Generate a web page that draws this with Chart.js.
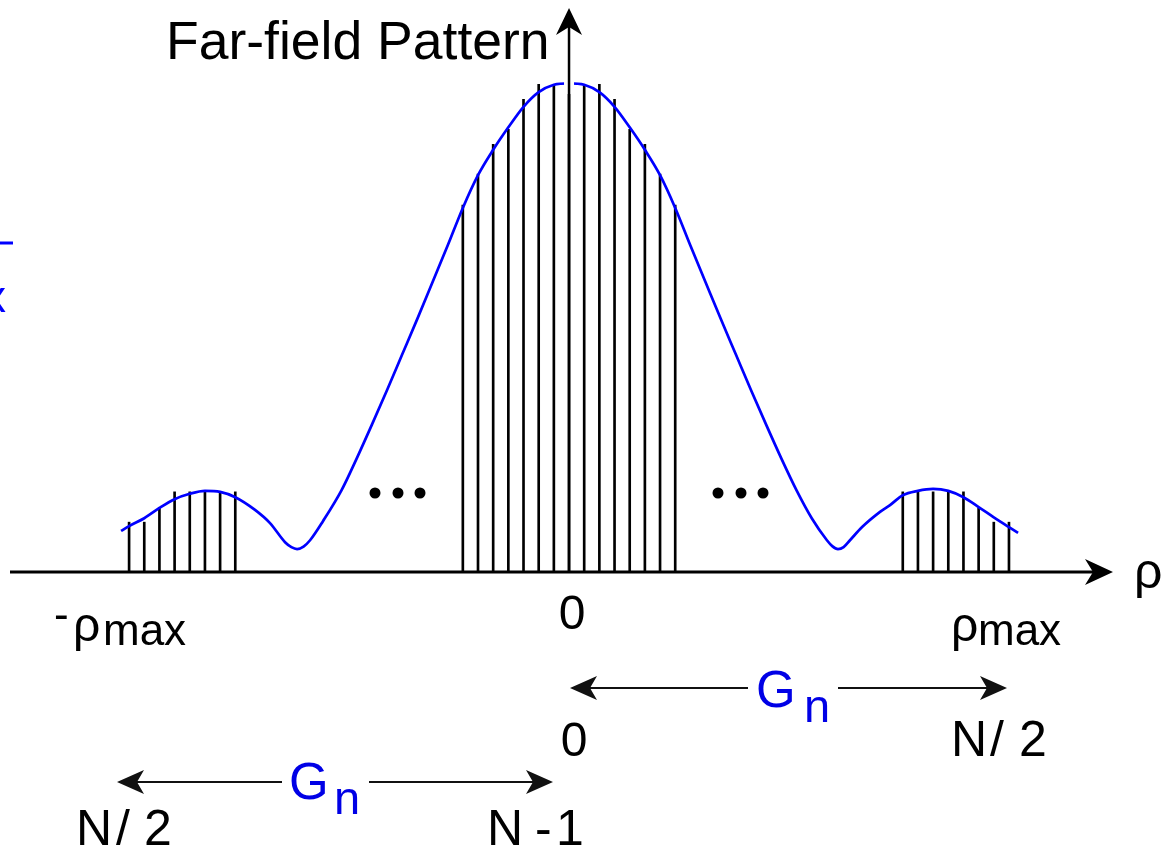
<!DOCTYPE html>
<html>
<head>
<meta charset="utf-8">
<script src="https://cdn.jsdelivr.net/npm/chart.js@4.4.0/dist/chart.umd.min.js"></script>
<style>
  html, body { margin: 0; padding: 0; background: #fff; }
  #wrap { width: 1164px; height: 850px; position: relative; }
</style>
</head>
<body>
<div id="wrap"><canvas id="farField"></canvas></div>
<script>
// Far-field pattern curve: rho in sample-index units, amplitude normalised to the peak
const curveRho = [-29.53, -29, -28, -27, -26, -25, -24, -23, -22, -20.7,
  -19.71, -18.72, -18.3, -17.93, -17.5, -17.07, -16.22, -15, -14, -13,
  -12, -11, -10, -9, -8, -7, -6, -5, -4, -3,
  -2, -1, 0, 1, 2, 3, 4, 5, 6, 7,
  8, 9, 10, 11, 12, 13, 14, 15, 16, 17,
  17.35, 17.73, 18.1, 18.52, 19.32, 20.5, 21.16, 22, 23, 24,
  25, 26, 27, 28, 29, 29.6];
const curveAmp = [0.084, 0.094, 0.110, 0.131, 0.149, 0.160, 0.166, 0.164, 0.153, 0.127,
  0.100, 0.061, 0.051, 0.047, 0.052, 0.065, 0.104, 0.167, 0.232, 0.301,
  0.372, 0.445, 0.518, 0.593, 0.668, 0.745, 0.812, 0.864, 0.910, 0.952,
  0.982, 0.997, 1.000, 0.997, 0.982, 0.952, 0.910, 0.864, 0.812, 0.745,
  0.668, 0.593, 0.518, 0.445, 0.372, 0.301, 0.232, 0.167, 0.110, 0.065,
  0.053, 0.047, 0.051, 0.065, 0.092, 0.123, 0.137, 0.157, 0.166, 0.170,
  0.166, 0.153, 0.133, 0.112, 0.092, 0.080];

// Sample stems G_n
const sampleRho = [-29, -28, -27, -26, -25, -24, -23, -22,
  -7, -6, -5, -4, -3, -2, -1, 0, 1, 2, 3, 4, 5, 6, 7,
  22, 23, 24, 25, 26, 27, 28, 29];
const sampleAmp = [0.102, 0.102, 0.131, 0.164, 0.164, 0.164, 0.164, 0.164,
  0.751, 0.814, 0.875, 0.906, 0.967, 0.998, 0.998, 1.000, 0.998, 0.998, 0.967, 0.906, 0.875, 0.814, 0.751,
  0.164, 0.164, 0.164, 0.164, 0.164, 0.131, 0.102, 0.102];

const FONT = '"Liberation Sans", Arial, sans-serif';
const BLUE = '#0000ff';

function line(ctx, x1, y1, x2, y2) {
  ctx.beginPath();
  ctx.moveTo(x1, y1);
  ctx.lineTo(x2, y2);
  ctx.stroke();
}

// concave arrow head, tip at (tx, ty), pointing along angle
function arrowHead(ctx, tx, ty, angle, len, half, notch) {
  ctx.save();
  ctx.translate(tx, ty);
  ctx.rotate(angle);
  ctx.beginPath();
  ctx.moveTo(0, 0);
  ctx.lineTo(-len, -half);
  ctx.lineTo(-len + notch, 0);
  ctx.lineTo(-len, half);
  ctx.closePath();
  ctx.fill();
  ctx.restore();
}

function txt(ctx, s, x, y, size, color, align) {
  ctx.font = size + 'px ' + FONT;
  ctx.fillStyle = color || '#000';
  ctx.textAlign = align || 'left';
  ctx.textBaseline = 'alphabetic';
  ctx.fillText(s, x, y);
}

const decor = {
  id: 'decor',
  afterDatasetsDraw(chart) {
    const { ctx, scales: { x, y } } = chart;
    const x0 = x.getPixelForValue(0);
    const y0 = y.getPixelForValue(0);
    ctx.save();

    // white gap where the vertical axis crosses the top of the curve
    ctx.fillStyle = '#fff';
    ctx.fillRect(x0 - 5, 72, 10, 22);

    ctx.strokeStyle = '#000';
    ctx.fillStyle = '#000';

    // horizontal axis
    ctx.lineWidth = 3;
    line(ctx, 10, y0, 1095, y0);
    arrowHead(ctx, 1113, y0, 0, 28, 13, 8);

    // vertical axis
    ctx.lineWidth = 2.5;
    line(ctx, x0, y0, x0, 25);
    arrowHead(ctx, x0, 8, -Math.PI / 2, 27, 13, 8);

    // ellipsis dots
    [375, 398, 420, 718, 741, 763].forEach(function (cx) {
      ctx.beginPath();
      ctx.arc(cx, 493, 5.5, 0, Math.PI * 2);
      ctx.fill();
    });

    // dimension arrows
    ctx.strokeStyle = '#111';
    ctx.fillStyle = '#111';
    ctx.lineWidth = 2;
    line(ctx, 580, 688, 748, 688);
    line(ctx, 838, 688, 997, 688);
    arrowHead(ctx, 570, 688, Math.PI, 27, 12, 7);
    arrowHead(ctx, 1007, 688, 0, 27, 12, 7);
    line(ctx, 127, 782, 282, 782);
    line(ctx, 369, 782, 543, 782);
    arrowHead(ctx, 117, 782, Math.PI, 27, 12, 7);
    arrowHead(ctx, 553, 782, 0, 27, 12, 7);

    // texts
    txt(ctx, 'Far-field Pattern', 166, 59, 53.5);
    txt(ctx, 'ρ', 1134, 588, 50);

    txt(ctx, '-', 54, 629, 44);
    txt(ctx, 'ρ', 73, 641, 48);
    txt(ctx, 'max', 103, 645, 44);
    txt(ctx, 'ρ', 951, 641, 48);
    txt(ctx, 'max', 978, 645, 44);

    txt(ctx, '0', 572, 629, 48, '#000', 'center');
    txt(ctx, '0', 574, 756, 48, '#000', 'center');

    txt(ctx, 'N', 951, 756, 50);
    txt(ctx, '/', 990, 756, 50);
    txt(ctx, '2', 1019, 756, 50);

    txt(ctx, 'N', 76, 845, 50);
    txt(ctx, '/', 116, 845, 50);
    txt(ctx, '2', 144, 845, 50);

    txt(ctx, 'N', 487, 845, 50);
    txt(ctx, '-', 535, 845, 50);
    txt(ctx, '1', 556, 845, 50);

    const GB = '#0000e6';
    txt(ctx, 'G', 756, 707, 51, GB);
    txt(ctx, 'n', 804, 722, 47, GB);
    txt(ctx, 'G', 289, 799, 51, GB);
    txt(ctx, 'n', 334, 814, 47, GB);

    // clipped blue fragments at the left edge
    ctx.strokeStyle = BLUE;
    ctx.lineWidth = 3;
    line(ctx, 0, 243, 13, 243);
    txt(ctx, 'x', 6, 312, 44, BLUE, 'right');

    ctx.restore();
  }
};

const curvePoints = curveRho.map((r, i) => ({ x: r, y: curveAmp[i] }));
const samplePoints = sampleRho.map((r, i) => ({ x: r, y: sampleAmp[i] }));

new Chart(document.getElementById('farField').getContext('2d'), {
  type: 'line',
  data: {
    datasets: [
      {
        type: 'line',
        label: 'Far-field pattern',
        data: curvePoints,
        borderColor: BLUE,
        borderWidth: 2.7,
        pointRadius: 0,
        cubicInterpolationMode: 'monotone',
        fill: false,
        order: 0,
      },
      {
        type: 'bar',
        label: 'Samples',
        data: samplePoints,
        backgroundColor: '#000',
        barThickness: 2,
        order: 1,
      },
    ],
  },
  options: {
    responsive: true,
    maintainAspectRatio: false,
    animation: false,
    layout: { padding: { left: 10, right: 54, top: 10, bottom: 278 } },
    plugins: {
      legend: { display: false },
      tooltip: { enabled: false },
    },
    scales: {
      x: { type: 'linear', min: -36.85, max: 35.66, offset: false, display: false },
      y: { type: 'linear', min: 0, max: 1.15, display: false },
    },
  },
  plugins: [decor],
});
</script>
</body>
</html>
